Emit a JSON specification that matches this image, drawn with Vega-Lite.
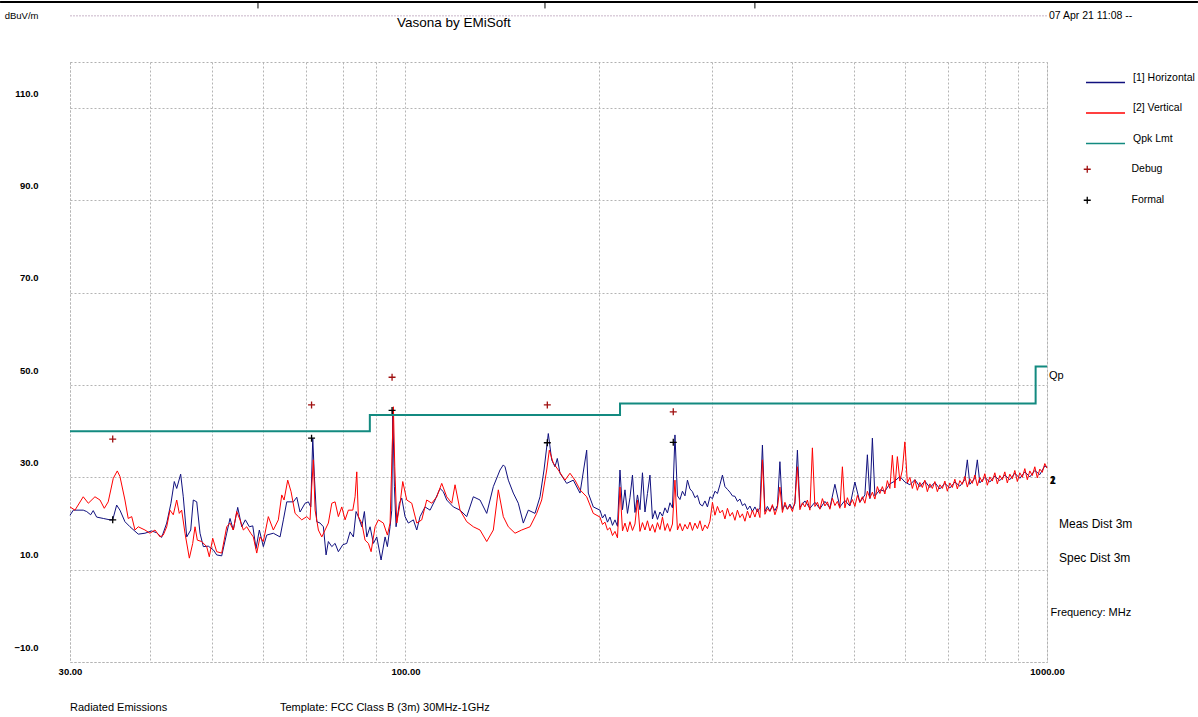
{
  "$schema": "https://vega.github.io/schema/vega-lite/v6.json",
  "width": 977,
  "height": 600,
  "autosize": {"type": "none"},
  "padding": {"left": 70, "top": 62, "right": 151, "bottom": 55},
  "background": "white",
  "config": {
    "view": {"stroke": "#b0b0b0", "strokeDash": [2, 2]},
    "font": "Liberation Sans, sans-serif",
    "axis": {"domain": false, "ticks": false, "gridColor": "#b4b4b4", "gridDash": [2, 2], "gridWidth": 1, "labelColor": "#000000", "labelFont": "Liberation Sans, sans-serif", "labelFontSize": 9.5, "titleFont": "Liberation Sans, sans-serif", "titleFontWeight": "normal", "titleColor": "#000000", "titleFontSize": 11}
  },
  "datasets": {
    "h": [
      {"f":30.0,"d":21.8},{"f":30.36,"d":22.9},{"f":31.46,"d":22.9},{"f":31.85,"d":22.6},{"f":32.31,"d":21.9},{"f":32.61,"d":22.8},{"f":33.01,"d":21.4},{"f":33.81,"d":21.1},{"f":34.63,"d":20.8},{"f":34.97,"d":20.8},{"f":35.47,"d":24.0},{"f":35.89,"d":22.9},{"f":36.54,"d":20.4},{"f":37.21,"d":19.3},{"f":38.33,"d":17.7},{"f":39.26,"d":17.9},{"f":40.21,"d":18.4},{"f":40.95,"d":18.0},{"f":41.69,"d":17.0},{"f":42.45,"d":20.1},{"f":43.10,"d":24.4},{"f":43.62,"d":29.1},{"f":44.0,"d":27.6},{"f":44.63,"d":30.7},{"f":45.05,"d":25.8},{"f":45.61,"d":17.1},{"f":46.27,"d":18.6},{"f":46.70,"d":25.1},{"f":47.28,"d":24.7},{"f":47.84,"d":17.9},{"f":48.41,"d":15.0},{"f":49.28,"d":15.1},{"f":50.18,"d":14.3},{"f":50.79,"d":13.2},{"f":51.71,"d":13.0},{"f":52.65,"d":17.9},{"f":53.28,"d":21.1},{"f":53.91,"d":18.6},{"f":54.77,"d":23.5},{"f":55.57,"d":19.3},{"f":56.29,"d":20.8},{"f":57.11,"d":19.3},{"f":57.81,"d":19.5},{"f":58.49,"d":14.6},{"f":59.19,"d":18.6},{"f":60.05,"d":15.0},{"f":60.78,"d":17.5},{"f":62.24,"d":17.9},{"f":63.76,"d":17.1},{"f":64.52,"d":20.8},{"f":65.31,"d":24.7},{"f":66.88,"d":24.7},{"f":67.70,"d":25.7},{"f":68.50,"d":22.5},{"f":69.75,"d":24.4},{"f":70.58,"d":24.7},{"f":71.19,"d":23.6},{"f":71.70,"d":38.5},{"f":72.12,"d":30.2},{"f":72.74,"d":20.4},{"f":73.61,"d":20.1},{"f":74.49,"d":19.3},{"f":75.21,"d":13.2},{"f":75.83,"d":16.1},{"f":76.77,"d":15.0},{"f":77.68,"d":15.7},{"f":78.60,"d":13.9},{"f":79.86,"d":15.4},{"f":81.01,"d":15.7},{"f":81.98,"d":18.2},{"f":82.96,"d":17.1},{"f":83.76,"d":22.6},{"f":84.45,"d":21.5},{"f":85.49,"d":19.3},{"f":86.30,"d":22.6},{"f":87.04,"d":17.1},{"f":88.08,"d":19.3},{"f":89.13,"d":15.7},{"f":90.22,"d":17.1},{"f":91.62,"d":12.1},{"f":92.95,"d":17.1},{"f":93.72,"d":15.0},{"f":94.63,"d":19.3},{"f":95.21,"d":22.9},{"f":95.55,"d":44.6},{"f":96.11,"d":28.0},{"f":96.69,"d":19.3},{"f":97.84,"d":24.4},{"f":98.69,"d":25.5},{"f":99.86,"d":21.5},{"f":101.05,"d":20.1},{"f":102.88,"d":20.8},{"f":104.14,"d":18.6},{"f":105.38,"d":21.5},{"f":107.29,"d":23.6},{"f":109.23,"d":22.9},{"f":111.21,"d":25.1},{"f":113.22,"d":27.6},{"f":114.57,"d":26.9},{"f":115.97,"d":25.1},{"f":118.76,"d":23.6},{"f":121.64,"d":22.9},{"f":124.60,"d":21.5},{"f":127.59,"d":25.8},{"f":130.69,"d":25.1},{"f":133.87,"d":22.2},{"f":137.08,"d":28.0},{"f":140.41,"d":31.6},{"f":142.08,"d":32.7},{"f":142.96,"d":32.3},{"f":144.66,"d":29.4},{"f":147.27,"d":26.6},{"f":149.94,"d":24.4},{"f":152.66,"d":20.1},{"f":155.42,"d":22.9},{"f":159.20,"d":22.2},{"f":162.08,"d":25.8},{"f":164.43,"d":31.6},{"f":166.98,"d":39.5},{"f":169.02,"d":33.8},{"f":171.04,"d":32.3},{"f":172.46,"d":34.1},{"f":174.14,"d":30.9},{"f":178.37,"d":28.7},{"f":182.65,"d":29.4},{"f":187.10,"d":26.6},{"f":191.64,"d":35.9},{"f":192.75,"d":26.6},{"f":196.24,"d":23.6},
      {"f":201.01,"d":22.9},{"f":202.82,"d":21.2},{"f":204.65,"d":22.0},{"f":206.49,"d":20.3},{"f":208.36,"d":21.4},{"f":210.24,"d":19.6},{"f":212.13,"d":20.8},{"f":214.04,"d":19.4},{"f":215.97,"d":31.6},{"f":217.92,"d":23.0},{"f":219.88,"d":27.3},{"f":221.86,"d":22.2},{"f":223.86,"d":25.6},{"f":225.88,"d":30.5},{"f":227.91,"d":22.4},{"f":229.96,"d":26.2},{"f":232.03,"d":23.0},{"f":234.12,"d":31.0},{"f":236.23,"d":22.5},{"f":238.36,"d":26.5},{"f":240.51,"d":30.5},{"f":242.68,"d":21.0},{"f":244.86,"d":22.8},{"f":247.07,"d":20.9},{"f":249.30,"d":22.5},{"f":251.55,"d":21.6},{"f":253.81,"d":23.4},{"f":256.10,"d":22.3},{"f":258.40,"d":24.5},{"f":260.73,"d":23.4},{"f":263.08,"d":39.2},{"f":265.45,"d":26.0},{"f":267.84,"d":25.2},{"f":270.25,"d":27.0},{"f":272.69,"d":26.0},{"f":275.15,"d":29.4},{"f":277.62,"d":27.5},{"f":280.12,"d":26.9},{"f":282.65,"d":25.6},{"f":285.20,"d":26.1},{"f":287.77,"d":24.2},{"f":290.36,"d":23.8},{"f":292.97,"d":24.9},{"f":295.61,"d":23.6},{"f":298.28,"d":25.8},{"f":300.97,"d":25.4},{"f":303.68,"d":27.0},{"f":306.42,"d":26.5},{"f":309.17,"d":28.4},{"f":311.96,"d":30.5},{"f":314.77,"d":28.0},{"f":317.61,"d":27.4},{"f":320.46,"d":26.8},{"f":323.35,"d":26.0},{"f":326.27,"d":25.9},{"f":329.21,"d":24.8},{"f":332.17,"d":25.3},{"f":335.16,"d":23.9},{"f":338.18,"d":24.3},{"f":341.23,"d":23.0},{"f":344.30,"d":23.8},{"f":347.40,"d":22.6},{"f":350.54,"d":23.6},{"f":353.70,"d":22.5},{"f":356.88,"d":23.5},{"f":360.10,"d":37.0},{"f":363.34,"d":22.6},{"f":366.61,"d":23.7},{"f":369.92,"d":22.7},{"f":373.25,"d":23.8},{"f":376.61,"d":22.8},{"f":380.00,"d":23.9},{"f":383.43,"d":33.4},{"f":386.88,"d":23.0},{"f":390.37,"d":24.0},{"f":393.89,"d":23.1},{"f":397.44,"d":24.2},{"f":401.02,"d":23.2},{"f":404.63,"d":24.3},{"f":408.28,"d":35.9},{"f":411.95,"d":23.5},{"f":419.41,"d":24.9},{"f":427.00,"d":23.3},{"f":434.73,"d":24.6},{"f":442.60,"d":23.2},{"f":450.61,"d":24.8},{"f":458.77,"d":23.4},{"f":467.07,"d":28.5},{"f":475.53,"d":23.6},{"f":484.13,"d":25.0},{"f":492.90,"d":23.8},{"f":501.82,"d":29.0},{"f":510.90,"d":24.6},{"f":520.15,"d":26.2},{"f":524.84,"d":34.9},{"f":529.57,"d":25.4},{"f":534.34,"d":38.5},{"f":539.15,"d":26.0},{"f":548.91,"d":27.3},{"f":558.84,"d":27.0},{"f":568.96,"d":28.6},{"f":579.26,"d":29.2},{"f":589.74,"d":30.2},{"f":600.42,"d":29.0},{"f":611.28,"d":28.4},{"f":622.35,"d":29.5},{"f":633.61,"d":28.0},{"f":645.08,"d":29.2},{"f":656.76,"d":27.8},{"f":668.64,"d":28.9},{"f":680.75,"d":27.5},{"f":693.07,"d":28.7},{"f":705.61,"d":27.7},{"f":718.38,"d":29.0},{"f":731.39,"d":28.1},{"f":744.62,"d":29.5},{"f":751.33,"d":33.8},{"f":758.10,"d":28.5},{"f":771.82,"d":29.8},{"f":778.77,"d":33.8},{"f":785.79,"d":28.8},{"f":800.02,"d":30.0},{"f":814.49,"d":29.0},{"f":829.24,"d":30.3},{"f":844.25,"d":29.3},{"f":859.53,"d":30.5},{"f":875.08,"d":29.5},{"f":890.92,"d":30.9},{"f":907.05,"d":29.8},{"f":923.47,"d":31.2},{"f":940.18,"d":30.1},{"f":957.20,"d":31.5},{"f":974.52,"d":30.6},{"f":992.16,"d":32.5},{"f":1000,"d":32.2}
    ],
    "v": [
      {"f":30.0,"d":23.6},{"f":30.54,"d":22.9},{"f":31.46,"d":25.8},{"f":32.04,"d":24.4},{"f":32.81,"d":25.8},{"f":33.41,"d":25.1},{"f":33.93,"d":23.3},{"f":34.41,"d":24.7},{"f":35.04,"d":29.8},{"f":35.55,"d":31.4},{"f":35.89,"d":30.2},{"f":36.54,"d":25.1},{"f":36.97,"d":21.1},{"f":37.44,"d":21.5},{"f":37.88,"d":18.6},{"f":38.33,"d":19.3},{"f":39.26,"d":18.6},{"f":39.97,"d":17.9},{"f":40.70,"d":18.6},{"f":41.44,"d":17.1},{"f":41.93,"d":17.5},{"f":42.45,"d":19.3},{"f":42.95,"d":22.9},{"f":43.46,"d":21.9},{"f":44.0,"d":25.1},{"f":44.41,"d":22.2},{"f":44.79,"d":22.9},{"f":45.33,"d":17.9},{"f":46.04,"d":12.5},{"f":46.60,"d":15.7},{"f":46.99,"d":19.3},{"f":47.38,"d":16.4},{"f":48.13,"d":16.1},{"f":49.0,"d":15.0},{"f":49.46,"d":12.8},{"f":50.07,"d":16.8},{"f":50.79,"d":13.9},{"f":51.71,"d":13.6},{"f":52.65,"d":19.3},{"f":53.28,"d":20.1},{"f":53.91,"d":18.6},{"f":54.57,"d":22.6},{"f":55.23,"d":20.8},{"f":55.89,"d":18.6},{"f":56.57,"d":19.3},{"f":57.39,"d":17.9},{"f":57.93,"d":17.1},{"f":58.64,"d":13.6},{"f":59.34,"d":17.1},{"f":60.05,"d":16.1},{"f":61.13,"d":21.5},{"f":62.24,"d":18.6},{"f":63.37,"d":20.8},{"f":64.15,"d":26.2},{"f":64.68,"d":25.1},{"f":65.54,"d":29.4},{"f":66.33,"d":26.9},{"f":67.29,"d":22.2},{"f":68.09,"d":21.5},{"f":68.92,"d":20.8},{"f":70.18,"d":21.5},{"f":71.01,"d":20.8},{"f":71.44,"d":28.0},{"f":71.86,"d":33.8},{"f":72.30,"d":22.9},{"f":73.16,"d":18.6},{"f":74.06,"d":17.1},{"f":74.94,"d":18.6},{"f":75.83,"d":20.1},{"f":76.77,"d":24.4},{"f":77.68,"d":24.7},{"f":78.60,"d":21.5},{"f":79.57,"d":23.6},{"f":80.52,"d":20.8},{"f":81.48,"d":22.9},{"f":82.78,"d":22.9},{"f":83.46,"d":25.8},{"f":83.97,"d":31.2},{"f":84.45,"d":21.5},{"f":85.49,"d":20.1},{"f":86.51,"d":16.4},{"f":87.54,"d":15.7},{"f":88.40,"d":13.9},{"f":89.67,"d":19.3},{"f":90.74,"d":20.8},{"f":92.38,"d":20.1},{"f":93.72,"d":17.5},{"f":94.63,"d":20.1},{"f":95.31,"d":35.2},{"f":95.76,"d":45.3},{"f":96.24,"d":32.3},{"f":96.93,"d":20.1},{"f":98.09,"d":24.4},{"f":99.04,"d":29.1},{"f":100.47,"d":25.1},{"f":102.29,"d":24.4},{"f":104.14,"d":20.1},{"f":106.02,"d":20.8},{"f":107.94,"d":25.1},{"f":109.90,"d":24.4},{"f":111.89,"d":25.8},{"f":113.91,"d":28.7},{"f":115.97,"d":25.8},{"f":118.08,"d":24.4},{"f":119.48,"d":28.4},{"f":121.64,"d":22.9},{"f":124.60,"d":20.4},{"f":127.59,"d":19.3},{"f":130.69,"d":18.6},{"f":133.87,"d":16.1},{"f":137.08,"d":18.6},{"f":139.56,"d":27.3},{"f":142.08,"d":21.5},{"f":144.66,"d":19.3},{"f":148.18,"d":17.9},{"f":151.78,"d":18.6},{"f":156.37,"d":19.3},{"f":160.17,"d":22.2},{"f":163.07,"d":25.1},{"f":166.03,"d":31.6},{"f":167.59,"d":35.9},{"f":170.0,"d":33.1},{"f":173.08,"d":31.6},{"f":177.29,"d":29.4},{"f":180.5,"d":30.9},{"f":183.77,"d":29.4},{"f":187.10,"d":27.3},{"f":191.64,"d":25.8},{"f":196.24,"d":22.2},
      {"f":201.01,"d":21.4},{"f":202.82,"d":19.8},{"f":204.65,"d":20.3},{"f":206.49,"d":18.6},{"f":208.36,"d":19.1},{"f":210.24,"d":17.4},{"f":212.13,"d":18.3},{"f":214.04,"d":16.9},{"f":215.97,"d":27.9},{"f":217.92,"d":18.4},{"f":219.88,"d":20.1},{"f":221.86,"d":18.2},{"f":223.86,"d":20.4},{"f":225.88,"d":18.5},{"f":227.91,"d":19.9},{"f":229.96,"d":25.1},{"f":232.03,"d":18.3},{"f":234.12,"d":20.2},{"f":236.23,"d":18.6},{"f":238.36,"d":20.6},{"f":240.51,"d":18.4},{"f":242.68,"d":19.8},{"f":244.86,"d":18.1},{"f":247.07,"d":20.2},{"f":249.30,"d":18.7},{"f":251.55,"d":21.4},{"f":253.81,"d":18.5},{"f":256.10,"d":20.0},{"f":258.40,"d":18.3},{"f":260.73,"d":19.9},{"f":263.08,"d":29.4},{"f":265.45,"d":18.6},{"f":267.84,"d":20.0},{"f":270.25,"d":18.4},{"f":272.69,"d":19.8},{"f":275.15,"d":18.8},{"f":277.62,"d":20.3},{"f":280.12,"d":18.5},{"f":282.65,"d":20.1},{"f":285.20,"d":18.9},
      {"f":287.77,"d":20.6},{"f":290.36,"d":18.4},{"f":292.97,"d":19.7},{"f":295.61,"d":18.9},{"f":298.28,"d":20.5},{"f":300.97,"d":24.6},{"f":303.68,"d":21.8},{"f":306.42,"d":23.7},{"f":309.17,"d":22.3},{"f":311.96,"d":22.9},{"f":314.77,"d":21.0},{"f":317.61,"d":23.3},{"f":320.46,"d":21.6},{"f":323.35,"d":22.4},{"f":326.27,"d":20.7},{"f":329.21,"d":22.9},{"f":332.17,"d":21.3},{"f":335.16,"d":22.1},{"f":338.18,"d":20.5},{"f":341.23,"d":22.7},{"f":344.30,"d":21.2},{"f":347.40,"d":22.9},{"f":350.54,"d":21.4},{"f":353.70,"d":23.2},{"f":356.88,"d":21.3},{"f":360.10,"d":33.8},{"f":363.34,"d":22.0},{"f":366.61,"d":23.2},{"f":369.92,"d":22.6},{"f":373.25,"d":24.1},{"f":376.61,"d":21.9},{"f":380.00,"d":23.5},{"f":383.43,"d":27.9},{"f":386.88,"d":22.4},{"f":390.37,"d":24.6},{"f":393.89,"d":23.1},{"f":397.44,"d":23.9},{"f":401.02,"d":22.6},{"f":404.63,"d":24.8},{"f":408.28,"d":32.3},{"f":411.95,"d":23.0},{"f":415.66,"d":24.5},{"f":419.41,"d":23.6},{"f":423.19,"d":25.1},{"f":427.00,"d":22.9},{"f":430.85,"d":36.4},{"f":434.73,"d":23.7},{"f":438.65,"d":24.6},{"f":442.60,"d":23.1},{"f":446.59,"d":25.4},{"f":450.61,"d":23.8},{"f":454.67,"d":24.7},{"f":458.77,"d":23.1},{"f":462.90,"d":25.5},{"f":467.07,"d":23.9},{"f":471.28,"d":24.8},{"f":475.53,"d":23.3},{"f":479.82,"d":32.3},{"f":484.13,"d":23.4},{"f":488.49,"d":25.6},{"f":492.90,"d":24.0},{"f":497.34,"d":25.2},{"f":501.82,"d":23.7},{"f":506.34,"d":26.1},{"f":510.90,"d":24.6},{"f":515.50,"d":25.8},{"f":520.15,"d":24.4},{"f":524.84,"d":27.0},{"f":529.57,"d":25.5},{"f":534.34,"d":26.8},{"f":539.15,"d":25.3},{"f":544.01,"d":28.0},{"f":548.91,"d":26.5},{"f":553.86,"d":28.0},{"f":558.84,"d":26.4},{"f":563.88,"d":29.3},{"f":568.96,"d":27.6},{"f":574.09,"d":34.8},{"f":579.26,"d":27.7},{"f":584.48,"d":34.5},{"f":589.74,"d":29.2},{"f":595.05,"d":31.6},{"f":600.42,"d":37.7},{"f":605.83,"d":28.8},{"f":611.28,"d":30.0},{"f":616.79,"d":27.6},{"f":622.35,"d":29.5},{"f":627.96,"d":27.2},{"f":633.61,"d":28.9},{"f":639.32,"d":27.8},{"f":645.08,"d":29.4},{"f":650.89,"d":26.9},{"f":656.76,"d":28.6},{"f":662.68,"d":27.6},{"f":668.64,"d":29.1},{"f":674.67,"d":26.9},{"f":680.75,"d":28.4},{"f":686.88,"d":27.6},{"f":693.07,"d":29.2},{"f":699.32,"d":27.0},{"f":705.61,"d":28.8},{"f":711.97,"d":27.8},{"f":718.38,"d":29.6},{"f":724.85,"d":27.5},{"f":731.39,"d":29.3},{"f":737.98,"d":28.5},{"f":744.62,"d":30.2},{"f":751.33,"d":27.9},{"f":758.10,"d":29.7},{"f":764.93,"d":28.7},{"f":771.82,"d":30.5},{"f":778.77,"d":28.2},{"f":785.79,"d":30.0},{"f":792.87,"d":29.0},{"f":800.02,"d":30.8},{"f":807.23,"d":28.3},{"f":814.49,"d":30.1},{"f":821.83,"d":29.2},{"f":829.24,"d":31.0},{"f":836.71,"d":28.6},{"f":844.25,"d":30.4},{"f":851.86,"d":29.5},{"f":859.53,"d":31.2},{"f":867.27,"d":28.8},{"f":875.08,"d":30.7},{"f":882.97,"d":29.7},{"f":890.92,"d":31.5},{"f":898.95,"d":29.1},{"f":907.05,"d":31.0},{"f":915.22,"d":30.0},{"f":923.47,"d":31.9},{"f":931.79,"d":29.5},{"f":940.18,"d":31.4},{"f":948.65,"d":30.4},{"f":957.20,"d":32.3},{"f":965.83,"d":29.9},{"f":974.52,"d":31.8},{"f":983.30,"d":31.1},{"f":992.16,"d":33.0},{"f":1000,"d":32.0}
    ],
    "lim": [{"f":30,"d":40},{"f":88,"d":43.5},{"f":216,"d":46},{"f":960,"d":54},{"f":1000,"d":54}],
    "dbg": [{"f":34.97,"d":38.3},{"f":71.39,"d":45.7},{"f":95.31,"d":51.7},{"f":166.39,"d":45.7},{"f":261.48,"d":44.2}],
    "fml": [{"f":34.97,"d":20.8},{"f":71.39,"d":38.5},{"f":95.31,"d":44.5},{"f":166.39,"d":37.5},{"f":261.48,"d":37.6}],
    "border": [{"f":23.34,"f2":1719,"d":133}],
    "borderTicks": [{"f":58.9,"d":133,"d2":131.6},{"f":165.0,"d":133,"d2":131.6},{"f":350.5,"d":133,"d2":131.6}],
    "hline": [{"f":30,"f2":1000,"d":130}]
  },
  "layer": [
    {
      "data": {"name": "h"},
      "mark": {"type": "line", "strokeWidth": 1},
      "encoding": {
        "x": {"field": "f", "type": "quantitative", "title": "Frequency: MHz",
          "scale": {"type": "log", "domain": [30, 1000], "nice": false},
          "axis": {"values": [30,40,50,60,70,80,90,100,200,300,400,500,600,700,800,900,1000], "labelExpr": "datum.value == 30 || datum.value == 100 || datum.value == 1000 ? format(datum.value, '.2f') : ''", "labelFlush": false, "labelOverlap": false, "labelPadding": 4, "labelFontWeight": "bold", "titleX": 980, "titleY": -50, "titleAlign": "left", "titleBaseline": "middle"}},
        "y": {"field": "d", "type": "quantitative", "title": "dBuV/m",
          "scale": {"domain": [-10, 120], "nice": false, "zero": false},
          "axis": {"values": [-10,10,30,50,70,90,110,130], "format": ".1f", "labelOffset": -15, "labelPadding": 32, "labelFontWeight": "bold", "titleAngle": 0, "titleX": -32, "titleY": -47, "titleAlign": "right", "titleBaseline": "middle", "titleFontSize": 9.5}},
        "color": {"datum": "[1] Horizontal",
          "scale": {"domain": ["[1] Horizontal", "[2] Vertical", "Qpk Lmt"], "range": ["#10107e", "#ff0000", "#138a80"]},
          "legend": {"orient": "none", "legendX": 1015, "legendY": 0, "title": null, "symbolType": "stroke", "symbolSize": 1521, "symbolStrokeWidth": 1.5, "labelFontSize": 10.5, "labelOffset": 7, "rowPadding": 6.5, "labelBaseline": "bottom", "padding": 0, "labelColor": "#000000"}}
      }
    },
    {
      "data": {"name": "v"},
      "mark": {"type": "line", "strokeWidth": 1},
      "encoding": {
        "x": {"field": "f", "type": "quantitative"},
        "y": {"field": "d", "type": "quantitative"},
        "color": {"datum": "[2] Vertical"}
      }
    },
    {
      "data": {"name": "lim"},
      "mark": {"type": "line", "strokeWidth": 2, "interpolate": "step-after"},
      "encoding": {
        "x": {"field": "f", "type": "quantitative"},
        "y": {"field": "d", "type": "quantitative"},
        "color": {"datum": "Qpk Lmt"}
      }
    },
    {
      "data": {"name": "dbg"},
      "mark": {"type": "point", "shape": "M-1,0H1M0,-1V1", "size": 49, "filled": false, "strokeWidth": 1.3, "opacity": 1},
      "encoding": {
        "x": {"field": "f", "type": "quantitative"},
        "y": {"field": "d", "type": "quantitative"},
        "stroke": {"datum": "Debug",
          "scale": {"domain": ["Debug", "Formal"], "range": ["#a01010", "#000000"]},
          "legend": {"orient": "none", "legendX": 1012, "legendY": 102, "title": null, "symbolType": "M-1,0H1M0,-1V1", "symbolSize": 49, "symbolStrokeWidth": 1.3, "labelFontSize": 10.5, "labelOffset": 39, "rowPadding": 18, "padding": 0, "labelColor": "#000000"}}
      }
    },
    {
      "data": {"name": "fml"},
      "mark": {"type": "point", "shape": "M-1,0H1M0,-1V1", "size": 49, "filled": false, "strokeWidth": 1.3, "opacity": 1},
      "encoding": {
        "x": {"field": "f", "type": "quantitative"},
        "y": {"field": "d", "type": "quantitative"},
        "stroke": {"datum": "Formal"}
      }
    },
    {
      "data": {"name": "border"},
      "mark": {"type": "rule", "color": "#000000", "strokeWidth": 2},
      "encoding": {
        "x": {"field": "f", "type": "quantitative"},
        "x2": {"field": "f2"},
        "y": {"field": "d", "type": "quantitative"}
      }
    },
    {
      "data": {"name": "borderTicks"},
      "mark": {"type": "rule", "color": "#000000", "strokeWidth": 1},
      "encoding": {
        "x": {"field": "f", "type": "quantitative"},
        "y": {"field": "d", "type": "quantitative"},
        "y2": {"field": "d2"}
      }
    },
    {
      "data": {"name": "hline"},
      "mark": {"type": "rule", "color": "#c8b4c8", "strokeWidth": 1, "strokeDash": [2, 1]},
      "encoding": {
        "x": {"field": "f", "type": "quantitative"},
        "x2": {"field": "f2"},
        "y": {"field": "d", "type": "quantitative"}
      }
    },
    {
      "data": {"values": [{"f": 30, "d": 130, "t": "Vasona by EMiSoft"}]},
      "mark": {"type": "text", "align": "left", "baseline": "middle", "dx": 327, "dy": 7, "fontSize": 13.5, "color": "#000000"},
      "encoding": {
        "x": {"field": "f", "type": "quantitative"},
        "y": {"field": "d", "type": "quantitative"},
        "text": {"field": "t"}
      }
    },
    {
      "data": {"values": [{"f": 1000, "d": 130, "t": "07 Apr 21 11:08 --"}]},
      "mark": {"type": "text", "align": "left", "baseline": "middle", "dx": 2, "fontSize": 10.5, "color": "#000000"},
      "encoding": {
        "x": {"field": "f", "type": "quantitative"},
        "y": {"field": "d", "type": "quantitative"},
        "text": {"field": "t"}
      }
    },
    {
      "data": {"values": [{"f": 1000, "d": 54, "t": "Qp"}]},
      "mark": {"type": "text", "align": "left", "baseline": "top", "dx": 2, "dy": 3, "fontSize": 11, "color": "#000000"},
      "encoding": {
        "x": {"field": "f", "type": "quantitative"},
        "y": {"field": "d", "type": "quantitative"},
        "text": {"field": "t"}
      }
    },
    {
      "data": {"values": [{"f": 1000, "d": 20, "t": "Meas Dist 3m"}, {"f": 1000, "d": 12.5, "t": "Spec Dist 3m"}]},
      "mark": {"type": "text", "align": "left", "baseline": "middle", "dx": 12, "fontSize": 12, "color": "#000000"},
      "encoding": {
        "x": {"field": "f", "type": "quantitative"},
        "y": {"field": "d", "type": "quantitative"},
        "text": {"field": "t"}
      }
    },
    {
      "data": {"values": [{"f": 1000, "d": 29.3, "t": "2"}, {"f": 1000, "d": 29.3, "t": "1"}]},
      "mark": {"type": "text", "align": "left", "baseline": "middle", "dx": 3, "fontSize": 10, "fontWeight": "bold", "color": "#000000"},
      "encoding": {
        "x": {"field": "f", "type": "quantitative"},
        "y": {"field": "d", "type": "quantitative"},
        "text": {"field": "t"}
      }
    },
    {
      "data": {"values": [{"f": 30, "d": -20, "t": "Radiated Emissions"}]},
      "mark": {"type": "text", "align": "left", "baseline": "middle", "dx": 0, "fontSize": 11, "color": "#000000"},
      "encoding": {
        "x": {"field": "f", "type": "quantitative"},
        "y": {"field": "d", "type": "quantitative"},
        "text": {"field": "t"}
      }
    },
    {
      "data": {"values": [{"f": 30, "d": -20, "t": "Template: FCC Class B (3m) 30MHz-1GHz"}]},
      "mark": {"type": "text", "align": "left", "baseline": "middle", "dx": 210, "fontSize": 11, "color": "#000000"},
      "encoding": {
        "x": {"field": "f", "type": "quantitative"},
        "y": {"field": "d", "type": "quantitative"},
        "text": {"field": "t"}
      }
    }
  ]
}
